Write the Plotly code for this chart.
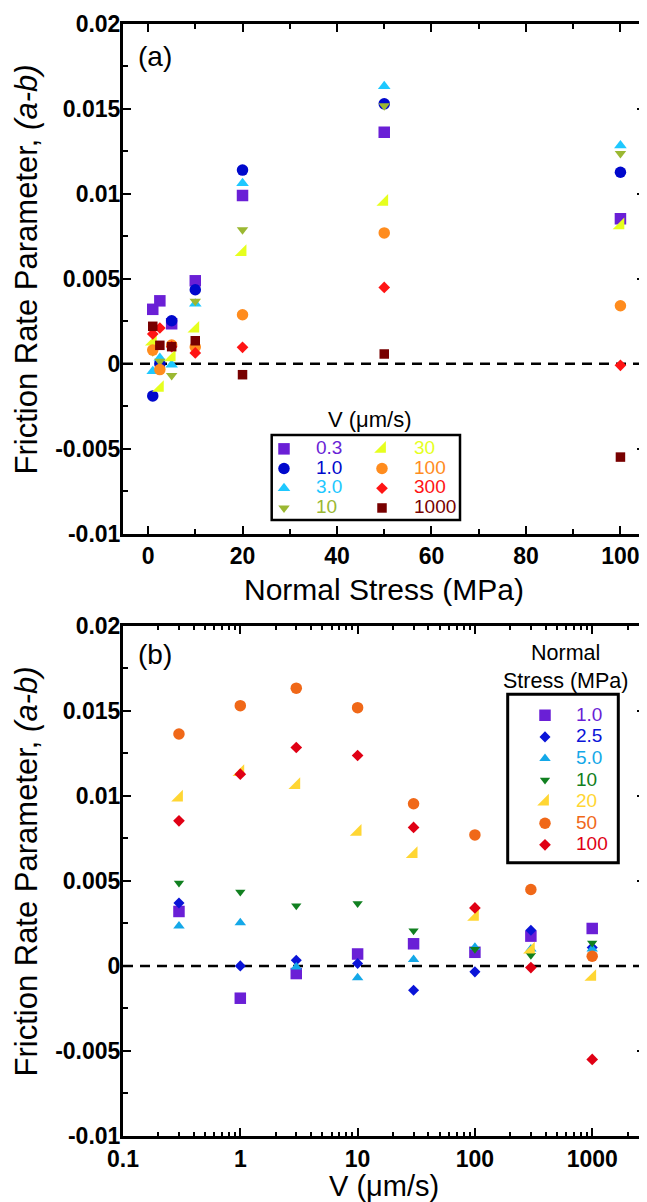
import plotly.graph_objects as go

# ---------------- data ----------------
V = [0.3, 1.0, 3.0, 10, 30, 100, 300, 1000]            # sliding velocity (um/s)
sigma = [1.0, 2.5, 5.0, 10, 20, 50, 100]               # normal stress (MPa)
v_labels = ["0.3", "1.0", "3.0", "10", "30", "100", "300", "1000"]
sigma_labels = ["1.0", "2.5", "5.0", "10", "20", "50", "100"]

# (a-b) for each normal stress, ordered by V
ab_s1_0 = [0.0032, -0.0019, -0.00045, 0.0007, 0.0013, 0.0008, 0.00175, 0.0022]
ab_s2_5 = [0.0037, 0.0000, 0.00033, 0.00014, -0.00143, -0.00035, 0.0021, 0.00108]
ab_s5_0 = [0.00235, 0.00253, -0.00006, -0.00069, 0.00037, 0.0011, 0.0010, 0.0010]
ab_s10 = [0.00488, 0.00435, 0.00353, 0.00367, 0.00206, 0.00098, 0.00063, 0.00135]
ab_s20 = [0.0099, 0.0114, 0.01063, 0.00788, 0.00657, 0.00288, 0.00096, -0.00065]
ab_s50 = [0.01363, 0.0153, 0.01633, 0.01518, 0.00953, 0.0077, 0.00449, 0.00057]
ab_s100 = [0.00853, 0.01127, 0.01284, 0.01237, 0.00814, 0.00341, -0.0001, -0.0055]
ab_by_sigma = [ab_s1_0, ab_s2_5, ab_s5_0, ab_s10, ab_s20, ab_s50, ab_s100]

y_tickvals = [-0.01, -0.005, 0, 0.005, 0.01, 0.015, 0.02]
y_ticktext = ["-0.01", "-0.005", "0", "0.005", "0.01", "0.015", "0.02"]
xa_tickvals = [0, 20, 40, 60, 80, 100]
xb_tickvals = [0.1, 1, 10, 100, 1000]
xb_ticktext = ["0.1", "1", "10", "100", "1000"]

# ---------------- styles ----------------
FONT = "Liberation Sans, Arial, sans-serif"
a_colors = ["#6a1fd6", "#0008cc", "#1ec8ff", "#9bb832", "#e6ff1e", "#ff8c1e", "#ff1414", "#780000"]
a_symbols = ["square", "circle", "triangle-up", "triangle-down", "triangle-se", "circle", "diamond", "square"]
a_sizes = [11.5, 11.5, 11, 10, 13, 11.5, 9, 9.5]
a_legend = ["legend", "legend", "legend", "legend", "legend2", "legend2", "legend2", "legend2"]

b_colors = ["#6a1fd6", "#0a14d8", "#14a8e8", "#118020", "#ffd633", "#f06818", "#e00014"]
b_symbols = ["square", "diamond", "triangle-up", "triangle-down", "triangle-se", "circle", "diamond"]
b_sizes = [11.5, 8.5, 10, 9, 13, 11.5, 9]

# the page body adds an 8px offset; the figure is laid out in reference-pixel coordinates
OFF = 8
W, H = 647 - OFF, 1202 - OFF
L, R, T, B = 123 - OFF, 2, 24 - OFF, 66
PW, PH = W - L - R, H - T - B


def px_x(rx):
    return (rx - OFF - L) / PW


def px_y(ry):
    return (H - B - (ry - OFF)) / PH


fig = go.Figure()

# panel (a): x = normal stress, one series per velocity
for j, lbl in enumerate(v_labels):
    yv = [row[j] for row in ab_by_sigma]
    fig.add_trace(go.Scatter(
        x=sigma, y=yv, mode="markers", xaxis="x", yaxis="y",
        marker=dict(symbol=a_symbols[j], size=a_sizes[j], color=a_colors[j], line=dict(width=0)),
        name=f'<span style="color:{a_colors[j]};font-size:19px">{lbl}</span>',
        legend=a_legend[j], hoverinfo="x+y"))

# panel (b): x = velocity, one series per normal stress
for i, lbl in enumerate(sigma_labels):
    fig.add_trace(go.Scatter(
        x=V, y=ab_by_sigma[i], mode="markers", xaxis="x2", yaxis="y2",
        marker=dict(symbol=b_symbols[i], size=b_sizes[i], color=b_colors[i], line=dict(width=0)),
        name=f'<span style="color:{b_colors[i]};font-size:19px">{lbl}</span>',
        legend="legend3", hoverinfo="x+y"))

tickfont = dict(family=FONT, size=23, color="black", weight="bold")
common = dict(showline=True, linecolor="black", linewidth=3, mirror="ticks",
              ticks="inside", ticklen=8, tickwidth=1.5, tickcolor="black",
              showgrid=False, zeroline=False, tickfont=tickfont, automargin=False)
ycommon = dict(common, range=[-0.01, 0.02], tickmode="array", tickvals=y_tickvals, ticktext=y_ticktext,
               ticklabelstandoff=-5,
               minor=dict(ticks="inside", ticklen=5, tickwidth=1.5, tickcolor="black", dtick=0.0025, tick0=0))

fig.update_layout(
    width=W, height=H,
    margin=dict(l=L, r=R, t=T, b=B, pad=0, autoexpand=False),
    paper_bgcolor="white", plot_bgcolor="white",
    font=dict(family=FONT, color="black"),
    xaxis=dict(common, anchor="y", domain=[0, 1], range=[-5.3, 105.2],
               tickmode="array", tickvals=xa_tickvals,
               minor=dict(ticks="inside", ticklen=5, tickwidth=1.5, tickcolor="black", dtick=10, tick0=0)),
    yaxis=dict(ycommon, anchor="x", domain=[px_y(533.5), 1]),
    xaxis2=dict(common, anchor="y2", domain=[0, 1], type="log", range=[-1, 3.45],
                tickmode="array", tickvals=xb_tickvals, ticktext=xb_ticktext,
                minor=dict(ticks="inside", ticklen=4.5, tickwidth=1.5, tickcolor="black", dtick="D1")),
    yaxis2=dict(ycommon, anchor="x2", domain=[0, px_y(625.7)]),
    legend=dict(x=px_x(252), y=px_y(434), xanchor="left", yanchor="top",
                bgcolor="rgba(0,0,0,0)", borderwidth=0, itemwidth=54, tracegroupgap=0,
                font=dict(family=FONT, size=12.85)),
    legend2=dict(x=px_x(350), y=px_y(434), xanchor="left", yanchor="top",
                 bgcolor="rgba(0,0,0,0)", borderwidth=0, itemwidth=54, tracegroupgap=0,
                 font=dict(family=FONT, size=12.85)),
    legend3=dict(x=px_x(514), y=px_y(699.5), xanchor="left", yanchor="top",
                 bgcolor="rgba(0,0,0,0)", borderwidth=0, itemwidth=52, tracegroupgap=0,
                 font=dict(family=FONT, size=14.3)),
    showlegend=True,
)

# dashed zero lines
for xr, yr in [("x domain", "y"), ("x2 domain", "y2")]:
    fig.add_shape(type="line", xref=xr, yref=yr, x0=0, x1=1, y0=0, y1=0, layer="below",
                  line=dict(color="black", width=2.5, dash="10px,7px"))

# legend boxes
fig.add_shape(type="rect", xref="paper", yref="paper", x0=px_x(271.7), x1=px_x(460),
              y0=px_y(520), y1=px_y(435), line=dict(color="black", width=2.5), fillcolor="rgba(0,0,0,0)")
fig.add_shape(type="rect", xref="paper", yref="paper", x0=px_x(507.7), x1=px_x(618.3),
              y0=px_y(862.7), y1=px_y(694.3), line=dict(color="black", width=3), fillcolor="rgba(0,0,0,0)")

ann = []
ann.append(dict(text="(a)", x=px_x(136), y=px_y(56.5), xanchor="left", yanchor="middle",
                font=dict(size=28)))
ann.append(dict(text="(b)", x=px_x(136), y=px_y(654.5), xanchor="left", yanchor="middle",
                font=dict(size=28)))
ann.append(dict(text="Friction Rate Parameter, <i>(a-b)</i>", x=px_x(26), y=px_y(269.5),
                textangle=-90, xanchor="center", yanchor="middle", font=dict(size=31)))
ann.append(dict(text="Friction Rate Parameter, <i>(a-b)</i>", x=px_x(26), y=px_y(871.5),
                textangle=-90, xanchor="center", yanchor="middle", font=dict(size=31)))
ann.append(dict(text="Normal Stress (MPa)", x=px_x(384), y=px_y(589.6), xanchor="center", yanchor="middle",
                font=dict(size=30)))
ann.append(dict(text="V (μm/s)", x=px_x(384), y=px_y(1185.5), xanchor="center", yanchor="middle",
                font=dict(size=29)))
ann.append(dict(text="V (μm/s)", x=px_x(370), y=px_y(419), xanchor="center", yanchor="middle",
                font=dict(size=22)))
ann.append(dict(text="Normal<br>Stress (MPa)", x=px_x(565), y=px_y(667), xanchor="center", yanchor="middle",
                font=dict(size=21.5)))
for a in ann:
    a.update(xref="paper", yref="paper", showarrow=False)
    a["font"].update(family=FONT, color="black")
fig.update_layout(annotations=ann)

fig.write_html("out.html")
